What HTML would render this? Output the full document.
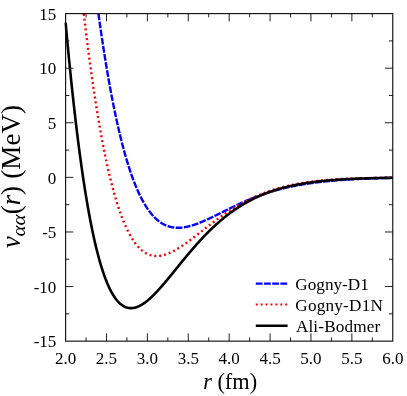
<!DOCTYPE html>
<html><head><meta charset="utf-8"><style>
html,body{margin:0;padding:0;background:#fff;}
svg{display:block;font-family:"Liberation Serif",serif;}
text{filter:grayscale(1);}
</style></head><body>
<svg width="407" height="396" viewBox="0 0 407 396">
<rect width="407" height="396" fill="#fff"/>
<defs><clipPath id="c"><rect x="64.19999999999999" y="13.299999999999999" width="329.95" height="328.15"/></clipPath></defs>
<g clip-path="url(#c)" fill="none" stroke-linejoin="round">
<path d="M95.62 -7.62 L95.94 -5.09 L96.27 -2.58 L96.60 -0.09 L96.92 2.38 L97.25 4.84 L97.58 7.27 L97.91 9.69 L98.23 12.09 L98.56 14.48 L98.89 16.84 L99.21 19.19 L99.54 21.52 L99.87 23.83 L100.20 26.13 L100.52 28.41 L100.85 30.67 L101.18 32.91 L101.50 35.13 L101.83 37.34 L102.16 39.53 L102.49 41.71 L102.81 43.86 L103.14 46.00 L103.47 48.13 L103.79 50.23 L104.12 52.32 L104.45 54.39 L104.78 56.45 L105.10 58.49 L105.43 60.51 L105.76 62.52 L106.08 64.51 L106.41 66.48 L106.74 68.44 L107.07 70.38 L107.39 72.31 L107.72 74.22 L108.05 76.11 L108.37 77.99 L108.70 79.85 L109.03 81.69 L109.36 83.52 L109.68 85.34 L110.01 87.14 L110.34 88.92 L110.66 90.69 L110.99 92.44 L111.32 94.18 L111.65 95.90 L111.97 97.61 L112.30 99.30 L112.63 100.98 L112.95 102.64 L113.28 104.29 L113.61 105.92 L113.94 107.54 L114.26 109.14 L114.59 110.73 L114.92 112.31 L115.25 113.87 L115.57 115.41 L115.90 116.95 L116.23 118.46 L116.55 119.97 L116.88 121.46 L117.21 122.93 L117.54 124.39 L117.86 125.84 L118.19 127.27 L118.52 128.69 L118.84 130.10 L119.17 131.49 L119.50 132.87 L119.83 134.24 L120.15 135.59 L120.48 136.93 L120.81 138.26 L121.13 139.57 L121.46 140.87 L121.79 142.16 L122.12 143.43 L122.44 144.70 L122.77 145.94 L123.10 147.18 L123.42 148.40 L123.75 149.62 L124.08 150.81 L124.41 152.00 L124.73 153.17 L125.06 154.34 L125.39 155.49 L125.71 156.62 L126.04 157.75 L126.37 158.86 L126.70 159.96 L127.02 161.05 L127.35 162.13 L127.68 163.20 L128.00 164.25 L128.33 165.29 L128.66 166.33 L128.99 167.35 L129.31 168.36 L129.64 169.35 L129.97 170.34 L130.29 171.31 L130.62 172.28 L130.95 173.23 L131.28 174.17 L131.60 175.11 L131.93 176.03 L132.26 176.94 L132.58 177.84 L132.91 178.72 L133.24 179.60 L133.57 180.47 L133.89 181.33 L134.22 182.18 L134.55 183.01 L134.87 183.84 L135.20 184.66 L135.53 185.46 L135.86 186.26 L136.18 187.05 L136.51 187.82 L136.84 188.59 L137.16 189.35 L137.49 190.10 L137.82 190.83 L138.15 191.56 L138.47 192.28 L138.80 192.99 L139.13 193.69 L139.45 194.39 L139.78 195.07 L140.11 195.74 L140.44 196.41 L140.76 197.06 L141.09 197.71 L141.42 198.34 L141.74 198.97 L142.07 199.59 L142.40 200.20 L142.73 200.81 L143.05 201.40 L143.38 201.99 L143.71 202.57 L144.03 203.13 L144.36 203.70 L144.69 204.25 L145.02 204.79 L145.34 205.33 L145.67 205.86 L146.00 206.38 L146.32 206.89 L146.65 207.39 L146.98 207.89 L147.31 208.38 L147.63 208.86 L147.96 209.34 L148.29 209.80 L148.61 210.26 L148.94 210.71 L149.27 211.16 L149.60 211.59 L149.92 212.02 L150.25 212.45 L150.58 212.86 L150.90 213.27 L151.23 213.67 L151.56 214.07 L151.89 214.45 L152.21 214.83 L152.54 215.21 L152.87 215.57 L153.19 215.94 L153.52 216.29 L153.85 216.64 L154.18 216.98 L154.50 217.31 L154.83 217.64 L155.16 217.96 L155.48 218.28 L155.81 218.59 L156.14 218.89 L156.47 219.19 L156.79 219.48 L157.12 219.76 L157.45 220.04 L157.77 220.31 L158.10 220.58 L158.43 220.84 L158.76 221.10 L159.08 221.35 L159.41 221.59 L159.74 221.83 L160.06 222.07 L160.39 222.29 L160.72 222.52 L161.05 222.73 L161.37 222.94 L161.70 223.15 L162.03 223.35 L162.35 223.55 L162.68 223.74 L163.01 223.93 L163.34 224.11 L163.66 224.28 L163.99 224.45 L164.32 224.62 L164.64 224.78 L164.97 224.94 L165.30 225.09 L165.63 225.24 L165.95 225.38 L166.28 225.52 L166.61 225.65 L166.93 225.78 L167.26 225.90 L167.59 226.02 L167.92 226.14 L168.24 226.25 L168.57 226.36 L168.90 226.46 L169.22 226.56 L169.55 226.65 L169.88 226.74 L170.21 226.83 L170.53 226.91 L170.86 226.99 L171.19 227.06 L171.51 227.13 L171.84 227.20 L172.17 227.26 L172.50 227.32 L172.82 227.38 L173.15 227.43 L173.48 227.48 L173.80 227.52 L174.13 227.56 L174.46 227.60 L174.79 227.64 L175.11 227.67 L175.44 227.69 L175.77 227.72 L176.09 227.74 L176.42 227.76 L176.75 227.77 L177.08 227.78 L177.40 227.79 L177.73 227.79 L178.06 227.80 L178.38 227.79 L178.71 227.79 L179.04 227.78 L179.37 227.77 L179.69 227.76 L180.02 227.74 L180.35 227.72 L180.68 227.70 L181.00 227.68 L181.33 227.65 L181.66 227.62 L181.98 227.59 L182.31 227.55 L182.64 227.52 L182.97 227.48 L183.29 227.43 L183.62 227.39 L183.95 227.34 L184.27 227.29 L184.60 227.24 L184.93 227.18 L185.26 227.13 L185.58 227.07 L185.91 227.00 L186.24 226.94 L186.56 226.88 L186.89 226.81 L187.22 226.74 L187.55 226.66 L187.87 226.59 L188.20 226.51 L188.53 226.44 L188.85 226.36 L189.18 226.27 L189.51 226.19 L189.84 226.10 L190.16 226.01 L190.49 225.92 L190.82 225.83 L191.14 225.74 L191.47 225.64 L191.80 225.55 L192.13 225.45 L192.45 225.35 L192.78 225.25 L193.11 225.14 L193.43 225.04 L193.76 224.93 L194.09 224.82 L194.42 224.72 L194.74 224.60 L195.07 224.49 L195.40 224.38 L195.72 224.26 L196.05 224.15 L196.38 224.03 L196.71 223.91 L197.03 223.79 L197.36 223.67 L197.69 223.54 L198.01 223.42 L198.34 223.29 L198.67 223.17 L199.00 223.04 L199.32 222.91 L199.65 222.78 L199.98 222.65 L200.30 222.52 L200.63 222.38 L200.96 222.25 L201.29 222.11 L201.61 221.98 L201.94 221.84 L202.27 221.70 L202.59 221.56 L202.92 221.42 L203.25 221.28 L203.58 221.14 L203.90 221.00 L204.23 220.85 L204.56 220.71 L204.88 220.56 L205.21 220.42 L205.54 220.27 L205.87 220.12 L206.19 219.98 L206.52 219.83 L206.85 219.68 L207.17 219.53 L207.50 219.38 L207.83 219.23 L208.16 219.07 L208.48 218.92 L208.81 218.77 L209.14 218.62 L209.46 218.46 L209.79 218.31 L210.12 218.15 L210.45 218.00 L210.77 217.84 L211.10 217.68 L211.43 217.53 L211.75 217.37 L212.08 217.21 L212.41 217.05 L212.74 216.90 L213.06 216.74 L213.39 216.58 L213.72 216.42 L214.04 216.26 L214.37 216.10 L214.70 215.94 L215.03 215.78 L215.35 215.62 L215.68 215.46 L216.01 215.30 L216.33 215.13 L216.66 214.97 L216.99 214.81 L217.32 214.65 L217.64 214.49 L217.97 214.32 L218.30 214.16 L218.62 214.00 L218.95 213.84 L219.28 213.67 L219.61 213.51 L219.93 213.35 L220.26 213.19 L220.59 213.02 L220.91 212.86 L221.24 212.70 L221.57 212.53 L221.90 212.37 L222.22 212.21 L222.55 212.04 L222.88 211.88 L223.20 211.72 L223.53 211.55 L223.86 211.39 L224.19 211.23 L224.51 211.07 L224.84 210.90 L225.17 210.74 L225.49 210.58 L225.82 210.42 L226.15 210.25 L226.48 210.09 L226.80 209.93 L227.13 209.77 L227.46 209.61 L227.78 209.44 L228.11 209.28 L228.44 209.12 L228.77 208.96 L229.09 208.80 L229.42 208.64 L229.75 208.48 L230.07 208.32 L230.40 208.16 L230.73 208.00 L231.06 207.84 L231.38 207.68 L231.71 207.52 L232.04 207.37 L232.36 207.21 L232.69 207.05 L233.02 206.89 L233.35 206.73 L233.67 206.58 L234.00 206.42 L234.33 206.26 L234.65 206.11 L234.98 205.95 L235.31 205.80 L235.64 205.64 L235.96 205.49 L236.29 205.33 L236.62 205.18 L236.94 205.03 L237.27 204.87 L237.60 204.72 L237.93 204.57 L238.25 204.41 L238.58 204.26 L238.91 204.11 L239.23 203.96 L239.56 203.81 L239.89 203.66 L240.22 203.51 L240.54 203.36 L240.87 203.21 L241.20 203.06 L241.52 202.92 L241.85 202.77 L242.18 202.62 L242.51 202.48 L242.83 202.33 L243.16 202.18 L243.49 202.04 L243.81 201.89 L244.14 201.75 L244.47 201.61 L244.80 201.46 L245.12 201.32 L245.45 201.18 L245.78 201.03 L246.11 200.89 L246.43 200.75 L246.76 200.61 L247.09 200.47 L247.41 200.33 L247.74 200.19 L248.07 200.06 L248.40 199.92 L248.72 199.78 L249.05 199.64 L249.38 199.51 L249.70 199.37 L250.03 199.24 L250.36 199.10 L250.69 198.97 L251.01 198.83 L251.34 198.70 L251.67 198.57 L251.99 198.44 L252.32 198.30 L252.65 198.17 L252.98 198.04 L253.30 197.91 L253.63 197.78 L253.96 197.65 L254.28 197.53 L254.61 197.40 L254.94 197.27 L255.27 197.14 L255.59 197.02 L255.92 196.89 L256.25 196.77 L256.57 196.64 L256.90 196.52 L257.23 196.40 L257.56 196.27 L257.88 196.15 L258.21 196.03 L258.54 195.91 L258.86 195.79 L259.19 195.67 L259.52 195.55 L259.85 195.43 L260.17 195.31 L260.50 195.19 L260.83 195.08 L261.15 194.96 L261.48 194.84 L261.81 194.73 L262.14 194.61 L262.46 194.50 L262.79 194.38 L263.12 194.27 L263.44 194.16 L263.77 194.05 L264.10 193.93 L264.43 193.82 L264.75 193.71 L265.08 193.60 L265.41 193.49 L265.73 193.39 L266.06 193.28 L266.39 193.17 L266.72 193.06 L267.04 192.96 L267.37 192.85 L267.70 192.74 L268.02 192.64 L268.35 192.54 L268.68 192.43 L269.01 192.33 L269.33 192.23 L269.66 192.12 L269.99 192.02 L270.31 191.92 L270.64 191.82 L270.97 191.72 L271.30 191.62 L271.62 191.52 L271.95 191.43 L272.28 191.33 L272.60 191.23 L272.93 191.13 L273.26 191.04 L273.59 190.94 L273.91 190.85 L274.24 190.75 L274.57 190.66 L274.89 190.57 L275.22 190.47 L275.55 190.38 L275.88 190.29 L276.20 190.20 L276.53 190.11 L276.86 190.02 L277.18 189.93 L277.51 189.84 L277.84 189.75 L278.17 189.66 L278.49 189.58 L278.82 189.49 L279.15 189.40 L279.47 189.32 L279.80 189.23 L280.13 189.15 L280.46 189.06 L280.78 188.98 L281.11 188.90 L281.44 188.81 L281.76 188.73 L282.09 188.65 L282.42 188.57 L282.75 188.49 L283.07 188.41 L283.40 188.33 L283.73 188.25 L284.05 188.17 L284.38 188.09 L284.71 188.01 L285.04 187.94 L285.36 187.86 L285.69 187.78 L286.02 187.71 L286.34 187.63 L286.67 187.56 L287.00 187.48 L287.33 187.41 L287.65 187.33 L287.98 187.26 L288.31 187.19 L288.63 187.12 L288.96 187.04 L289.29 186.97 L289.62 186.90 L289.94 186.83 L290.27 186.76 L290.60 186.69 L290.92 186.62 L291.25 186.56 L291.58 186.49 L291.91 186.42 L292.23 186.35 L292.56 186.29 L292.89 186.22 L293.21 186.15 L293.54 186.09 L293.87 186.02 L294.20 185.96 L294.52 185.89 L294.85 185.83 L295.18 185.77 L295.50 185.70 L295.83 185.64 L296.16 185.58 L296.49 185.52 L296.81 185.46 L297.14 185.39 L297.47 185.33 L297.79 185.27 L298.12 185.21 L298.45 185.15 L298.78 185.10 L299.10 185.04 L299.43 184.98 L299.76 184.92 L300.08 184.86 L300.41 184.81 L300.74 184.75 L301.07 184.69 L301.39 184.64 L301.72 184.58 L302.05 184.53 L302.37 184.47 L302.70 184.42 L303.03 184.36 L303.36 184.31 L303.68 184.26 L304.01 184.20 L304.34 184.15 L304.66 184.10 L304.99 184.05 L305.32 183.99 L305.65 183.94 L305.97 183.89 L306.30 183.84 L306.63 183.79 L306.95 183.74 L307.28 183.69 L307.61 183.64 L307.94 183.59 L308.26 183.54 L308.59 183.50 L308.92 183.45 L309.24 183.40 L309.57 183.35 L309.90 183.31 L310.23 183.26 L310.55 183.21 L310.88 183.17 L311.21 183.12 L311.54 183.08 L311.86 183.03 L312.19 182.99 L312.52 182.94 L312.84 182.90 L313.17 182.85 L313.50 182.81 L313.83 182.76 L314.15 182.72 L314.48 182.68 L314.81 182.64 L315.13 182.59 L315.46 182.55 L315.79 182.51 L316.12 182.47 L316.44 182.43 L316.77 182.39 L317.10 182.35 L317.42 182.31 L317.75 182.27 L318.08 182.23 L318.41 182.19 L318.73 182.15 L319.06 182.11 L319.39 182.07 L319.71 182.03 L320.04 181.99 L320.37 181.95 L320.70 181.92 L321.02 181.88 L321.35 181.84 L321.68 181.80 L322.00 181.77 L322.33 181.73 L322.66 181.69 L322.99 181.66 L323.31 181.62 L323.64 181.59 L323.97 181.55 L324.29 181.52 L324.62 181.48 L324.95 181.45 L325.28 181.41 L325.60 181.38 L325.93 181.35 L326.26 181.31 L326.58 181.28 L326.91 181.24 L327.24 181.21 L327.57 181.18 L327.89 181.15 L328.22 181.11 L328.55 181.08 L328.87 181.05 L329.20 181.02 L329.53 180.99 L329.86 180.96 L330.18 180.92 L330.51 180.89 L330.84 180.86 L331.16 180.83 L331.49 180.80 L331.82 180.77 L332.15 180.74 L332.47 180.71 L332.80 180.68 L333.13 180.65 L333.45 180.63 L333.78 180.60 L334.11 180.57 L334.44 180.54 L334.76 180.51 L335.09 180.48 L335.42 180.46 L335.74 180.43 L336.07 180.40 L336.40 180.37 L336.73 180.35 L337.05 180.32 L337.38 180.29 L337.71 180.27 L338.03 180.24 L338.36 180.21 L338.69 180.19 L339.02 180.16 L339.34 180.14 L339.67 180.11 L340.00 180.09 L340.32 180.06 L340.65 180.04 L340.98 180.01 L341.31 179.99 L341.63 179.96 L341.96 179.94 L342.29 179.92 L342.61 179.89 L342.94 179.87 L343.27 179.84 L343.60 179.82 L343.92 179.80 L344.25 179.78 L344.58 179.75 L344.90 179.73 L345.23 179.71 L345.56 179.69 L345.89 179.66 L346.21 179.64 L346.54 179.62 L346.87 179.60 L347.19 179.58 L347.52 179.56 L347.85 179.53 L348.18 179.51 L348.50 179.49 L348.83 179.47 L349.16 179.45 L349.48 179.43 L349.81 179.41 L350.14 179.39 L350.47 179.37 L350.79 179.35 L351.12 179.33 L351.45 179.31 L351.77 179.29 L352.10 179.28 L352.43 179.26 L352.76 179.24 L353.08 179.22 L353.41 179.20 L353.74 179.18 L354.06 179.16 L354.39 179.15 L354.72 179.13 L355.05 179.11 L355.37 179.09 L355.70 179.08 L356.03 179.06 L356.35 179.04 L356.68 179.02 L357.01 179.01 L357.34 178.99 L357.66 178.97 L357.99 178.96 L358.32 178.94 L358.64 178.93 L358.97 178.91 L359.30 178.89 L359.63 178.88 L359.95 178.86 L360.28 178.85 L360.61 178.83 L360.93 178.82 L361.26 178.80 L361.59 178.79 L361.92 178.77 L362.24 178.76 L362.57 178.74 L362.90 178.73 L363.22 178.71 L363.55 178.70 L363.88 178.69 L364.21 178.67 L364.53 178.66 L364.86 178.64 L365.19 178.63 L365.51 178.62 L365.84 178.60 L366.17 178.59 L366.50 178.58 L366.82 178.56 L367.15 178.55 L367.48 178.54 L367.80 178.53 L368.13 178.51 L368.46 178.50 L368.79 178.49 L369.11 178.48 L369.44 178.47 L369.77 178.45 L370.09 178.44 L370.42 178.43 L370.75 178.42 L371.08 178.41 L371.40 178.40 L371.73 178.38 L372.06 178.37 L372.38 178.36 L372.71 178.35 L373.04 178.34 L373.37 178.33 L373.69 178.32 L374.02 178.31 L374.35 178.30 L374.67 178.29 L375.00 178.28 L375.33 178.27 L375.66 178.26 L375.98 178.25 L376.31 178.24 L376.64 178.23 L376.97 178.22 L377.29 178.21 L377.62 178.20 L377.95 178.19 L378.27 178.18 L378.60 178.17 L378.93 178.16 L379.26 178.15 L379.58 178.15 L379.91 178.14 L380.24 178.13 L380.56 178.12 L380.89 178.11 L381.22 178.10 L381.55 178.09 L381.87 178.09 L382.20 178.08 L382.53 178.07 L382.85 178.06 L383.18 178.05 L383.51 178.05 L383.84 178.04 L384.16 178.03 L384.49 178.02 L384.82 178.02 L385.14 178.01 L385.47 178.00 L385.80 177.99 L386.13 177.99 L386.45 177.98 L386.78 177.97 L387.11 177.97 L387.43 177.96 L387.76 177.95 L388.09 177.95 L388.42 177.94 L388.74 177.93 L389.07 177.93 L389.40 177.92 L389.72 177.91 L390.05 177.91 L390.38 177.90 L390.71 177.89 L391.03 177.89 L391.36 177.88 L391.69 177.88 L392.01 177.87 L392.34 177.86 L392.67 177.86" stroke="#0000ff" stroke-width="2.4" stroke-dasharray="6.75 1.45" stroke-dashoffset="3.335"/>
<path d="M81.38 -7.50 L81.71 -4.54 L82.04 -1.60 L82.37 1.32 L82.69 4.22 L83.02 7.09 L83.35 9.94 L83.68 12.78 L84.00 15.59 L84.33 18.38 L84.66 21.15 L84.98 23.89 L85.31 26.62 L85.64 29.33 L85.97 32.01 L86.29 34.68 L86.62 37.32 L86.95 39.94 L87.27 42.54 L87.60 45.13 L87.93 47.69 L88.26 50.23 L88.58 52.75 L88.91 55.25 L89.24 57.73 L89.56 60.19 L89.89 62.63 L90.22 65.05 L90.55 67.45 L90.87 69.83 L91.20 72.19 L91.53 74.53 L91.85 76.85 L92.18 79.15 L92.51 81.44 L92.84 83.70 L93.16 85.94 L93.49 88.17 L93.82 90.37 L94.14 92.56 L94.47 94.73 L94.80 96.88 L95.13 99.00 L95.45 101.12 L95.78 103.21 L96.11 105.28 L96.43 107.34 L96.76 109.37 L97.09 111.39 L97.42 113.39 L97.74 115.38 L98.07 117.34 L98.40 119.28 L98.72 121.21 L99.05 123.12 L99.38 125.02 L99.71 126.89 L100.03 128.75 L100.36 130.59 L100.69 132.41 L101.01 134.21 L101.34 136.00 L101.67 137.77 L102.00 139.52 L102.32 141.26 L102.65 142.98 L102.98 144.68 L103.30 146.37 L103.63 148.03 L103.96 149.69 L104.29 151.32 L104.61 152.94 L104.94 154.54 L105.27 156.13 L105.59 157.70 L105.92 159.25 L106.25 160.79 L106.58 162.31 L106.90 163.82 L107.23 165.31 L107.56 166.78 L107.88 168.24 L108.21 169.68 L108.54 171.11 L108.87 172.52 L109.19 173.92 L109.52 175.30 L109.85 176.67 L110.17 178.02 L110.50 179.36 L110.83 180.68 L111.16 181.98 L111.48 183.28 L111.81 184.55 L112.14 185.82 L112.46 187.06 L112.79 188.30 L113.12 189.52 L113.45 190.72 L113.77 191.91 L114.10 193.09 L114.43 194.25 L114.75 195.40 L115.08 196.54 L115.41 197.66 L115.74 198.77 L116.06 199.86 L116.39 200.94 L116.72 202.01 L117.04 203.07 L117.37 204.11 L117.70 205.14 L118.03 206.15 L118.35 207.15 L118.68 208.14 L119.01 209.12 L119.33 210.08 L119.66 211.03 L119.99 211.97 L120.32 212.90 L120.64 213.81 L120.97 214.71 L121.30 215.60 L121.62 216.48 L121.95 217.34 L122.28 218.19 L122.61 219.03 L122.93 219.86 L123.26 220.68 L123.59 221.49 L123.91 222.28 L124.24 223.06 L124.57 223.83 L124.90 224.59 L125.22 225.34 L125.55 226.08 L125.88 226.80 L126.20 227.52 L126.53 228.22 L126.86 228.91 L127.19 229.60 L127.51 230.27 L127.84 230.93 L128.17 231.58 L128.49 232.22 L128.82 232.85 L129.15 233.47 L129.48 234.08 L129.80 234.68 L130.13 235.27 L130.46 235.84 L130.78 236.41 L131.11 236.97 L131.44 237.52 L131.77 238.06 L132.09 238.59 L132.42 239.11 L132.75 239.62 L133.07 240.12 L133.40 240.61 L133.73 241.10 L134.06 241.57 L134.38 242.03 L134.71 242.49 L135.04 242.94 L135.36 243.37 L135.69 243.80 L136.02 244.22 L136.35 244.63 L136.67 245.04 L137.00 245.43 L137.33 245.82 L137.65 246.19 L137.98 246.56 L138.31 246.92 L138.64 247.27 L138.96 247.62 L139.29 247.96 L139.62 248.28 L139.94 248.60 L140.27 248.92 L140.60 249.22 L140.93 249.52 L141.25 249.81 L141.58 250.09 L141.91 250.37 L142.23 250.63 L142.56 250.89 L142.89 251.15 L143.22 251.39 L143.54 251.63 L143.87 251.86 L144.20 252.09 L144.52 252.30 L144.85 252.51 L145.18 252.72 L145.51 252.91 L145.83 253.10 L146.16 253.29 L146.49 253.46 L146.81 253.64 L147.14 253.80 L147.47 253.96 L147.80 254.11 L148.12 254.25 L148.45 254.39 L148.78 254.53 L149.11 254.65 L149.43 254.77 L149.76 254.89 L150.09 255.00 L150.41 255.10 L150.74 255.20 L151.07 255.29 L151.40 255.38 L151.72 255.46 L152.05 255.53 L152.38 255.60 L152.70 255.67 L153.03 255.73 L153.36 255.78 L153.69 255.83 L154.01 255.87 L154.34 255.91 L154.67 255.95 L154.99 255.97 L155.32 256.00 L155.65 256.02 L155.98 256.03 L156.30 256.04 L156.63 256.04 L156.96 256.04 L157.28 256.04 L157.61 256.03 L157.94 256.01 L158.27 256.00 L158.59 255.97 L158.92 255.95 L159.25 255.91 L159.57 255.88 L159.90 255.84 L160.23 255.79 L160.56 255.75 L160.88 255.69 L161.21 255.64 L161.54 255.58 L161.86 255.51 L162.19 255.45 L162.52 255.38 L162.85 255.30 L163.17 255.22 L163.50 255.14 L163.83 255.05 L164.15 254.96 L164.48 254.87 L164.81 254.77 L165.14 254.67 L165.46 254.57 L165.79 254.46 L166.12 254.35 L166.44 254.24 L166.77 254.12 L167.10 254.01 L167.43 253.88 L167.75 253.76 L168.08 253.63 L168.41 253.50 L168.73 253.36 L169.06 253.23 L169.39 253.09 L169.72 252.94 L170.04 252.80 L170.37 252.65 L170.70 252.50 L171.02 252.35 L171.35 252.19 L171.68 252.03 L172.01 251.87 L172.33 251.71 L172.66 251.54 L172.99 251.37 L173.31 251.20 L173.64 251.03 L173.97 250.85 L174.30 250.68 L174.62 250.50 L174.95 250.32 L175.28 250.13 L175.60 249.95 L175.93 249.76 L176.26 249.57 L176.59 249.38 L176.91 249.18 L177.24 248.99 L177.57 248.79 L177.89 248.59 L178.22 248.39 L178.55 248.19 L178.88 247.98 L179.20 247.78 L179.53 247.57 L179.86 247.36 L180.18 247.15 L180.51 246.93 L180.84 246.72 L181.17 246.50 L181.49 246.29 L181.82 246.07 L182.15 245.85 L182.47 245.63 L182.80 245.41 L183.13 245.18 L183.46 244.96 L183.78 244.73 L184.11 244.50 L184.44 244.27 L184.76 244.04 L185.09 243.81 L185.42 243.58 L185.75 243.35 L186.07 243.11 L186.40 242.88 L186.73 242.64 L187.05 242.40 L187.38 242.17 L187.71 241.93 L188.04 241.69 L188.36 241.45 L188.69 241.20 L189.02 240.96 L189.34 240.72 L189.67 240.47 L190.00 240.23 L190.33 239.98 L190.65 239.74 L190.98 239.49 L191.31 239.24 L191.63 239.00 L191.96 238.75 L192.29 238.50 L192.62 238.25 L192.94 238.00 L193.27 237.75 L193.60 237.50 L193.92 237.25 L194.25 236.99 L194.58 236.74 L194.91 236.49 L195.23 236.24 L195.56 235.98 L195.89 235.73 L196.21 235.47 L196.54 235.22 L196.87 234.97 L197.20 234.71 L197.52 234.46 L197.85 234.20 L198.18 233.94 L198.50 233.69 L198.83 233.43 L199.16 233.18 L199.49 232.92 L199.81 232.67 L200.14 232.41 L200.47 232.15 L200.79 231.90 L201.12 231.64 L201.45 231.38 L201.78 231.13 L202.10 230.87 L202.43 230.62 L202.76 230.36 L203.08 230.10 L203.41 229.85 L203.74 229.59 L204.07 229.34 L204.39 229.08 L204.72 228.82 L205.05 228.57 L205.37 228.31 L205.70 228.06 L206.03 227.80 L206.36 227.55 L206.68 227.30 L207.01 227.04 L207.34 226.79 L207.66 226.53 L207.99 226.28 L208.32 226.03 L208.65 225.77 L208.97 225.52 L209.30 225.27 L209.63 225.02 L209.95 224.77 L210.28 224.52 L210.61 224.27 L210.94 224.02 L211.26 223.77 L211.59 223.52 L211.92 223.27 L212.24 223.02 L212.57 222.77 L212.90 222.53 L213.23 222.28 L213.55 222.03 L213.88 221.79 L214.21 221.54 L214.54 221.30 L214.86 221.05 L215.19 220.81 L215.52 220.56 L215.84 220.32 L216.17 220.08 L216.50 219.84 L216.83 219.60 L217.15 219.35 L217.48 219.11 L217.81 218.87 L218.13 218.64 L218.46 218.40 L218.79 218.16 L219.12 217.92 L219.44 217.69 L219.77 217.45 L220.10 217.22 L220.42 216.98 L220.75 216.75 L221.08 216.52 L221.41 216.28 L221.73 216.05 L222.06 215.82 L222.39 215.59 L222.71 215.36 L223.04 215.13 L223.37 214.90 L223.70 214.68 L224.02 214.45 L224.35 214.22 L224.68 214.00 L225.00 213.77 L225.33 213.55 L225.66 213.33 L225.99 213.10 L226.31 212.88 L226.64 212.66 L226.97 212.44 L227.29 212.22 L227.62 212.00 L227.95 211.79 L228.28 211.57 L228.60 211.35 L228.93 211.14 L229.26 210.92 L229.58 210.71 L229.91 210.50 L230.24 210.29 L230.57 210.07 L230.89 209.86 L231.22 209.65 L231.55 209.45 L231.87 209.24 L232.20 209.03 L232.53 208.82 L232.86 208.62 L233.18 208.41 L233.51 208.21 L233.84 208.01 L234.16 207.81 L234.49 207.60 L234.82 207.40 L235.15 207.20 L235.47 207.01 L235.80 206.81 L236.13 206.61 L236.45 206.41 L236.78 206.22 L237.11 206.02 L237.44 205.83 L237.76 205.64 L238.09 205.45 L238.42 205.26 L238.74 205.07 L239.07 204.88 L239.40 204.69 L239.73 204.50 L240.05 204.31 L240.38 204.13 L240.71 203.94 L241.03 203.76 L241.36 203.58 L241.69 203.39 L242.02 203.21 L242.34 203.03 L242.67 202.85 L243.00 202.67 L243.32 202.49 L243.65 202.32 L243.98 202.14 L244.31 201.97 L244.63 201.79 L244.96 201.62 L245.29 201.45 L245.61 201.27 L245.94 201.10 L246.27 200.93 L246.60 200.76 L246.92 200.59 L247.25 200.43 L247.58 200.26 L247.90 200.09 L248.23 199.93 L248.56 199.77 L248.89 199.60 L249.21 199.44 L249.54 199.28 L249.87 199.12 L250.19 198.96 L250.52 198.80 L250.85 198.64 L251.18 198.48 L251.50 198.33 L251.83 198.17 L252.16 198.02 L252.48 197.86 L252.81 197.71 L253.14 197.56 L253.47 197.41 L253.79 197.26 L254.12 197.11 L254.45 196.96 L254.77 196.81 L255.10 196.67 L255.43 196.52 L255.76 196.37 L256.08 196.23 L256.41 196.09 L256.74 195.94 L257.06 195.80 L257.39 195.66 L257.72 195.52 L258.05 195.38 L258.37 195.24 L258.70 195.10 L259.03 194.97 L259.35 194.83 L259.68 194.70 L260.01 194.56 L260.34 194.43 L260.66 194.29 L260.99 194.16 L261.32 194.03 L261.64 193.90 L261.97 193.77 L262.30 193.64 L262.63 193.51 L262.95 193.39 L263.28 193.26 L263.61 193.13 L263.93 193.01 L264.26 192.88 L264.59 192.76 L264.92 192.64 L265.24 192.52 L265.57 192.40 L265.90 192.28 L266.22 192.16 L266.55 192.04 L266.88 191.92 L267.21 191.80 L267.53 191.68 L267.86 191.57 L268.19 191.45 L268.51 191.34 L268.84 191.23 L269.17 191.11 L269.50 191.00 L269.82 190.89 L270.15 190.78 L270.48 190.67 L270.80 190.56 L271.13 190.45 L271.46 190.34 L271.79 190.24 L272.11 190.13 L272.44 190.03 L272.77 189.92 L273.09 189.82 L273.42 189.71 L273.75 189.61 L274.08 189.51 L274.40 189.41 L274.73 189.31 L275.06 189.21 L275.38 189.11 L275.71 189.01 L276.04 188.91 L276.37 188.81 L276.69 188.72 L277.02 188.62 L277.35 188.53 L277.67 188.43 L278.00 188.34 L278.33 188.24 L278.66 188.15 L278.98 188.06 L279.31 187.97 L279.64 187.88 L279.97 187.79 L280.29 187.70 L280.62 187.61 L280.95 187.52 L281.27 187.43 L281.60 187.35 L281.93 187.26 L282.26 187.18 L282.58 187.09 L282.91 187.01 L283.24 186.92 L283.56 186.84 L283.89 186.76 L284.22 186.68 L284.55 186.59 L284.87 186.51 L285.20 186.43 L285.53 186.35 L285.85 186.27 L286.18 186.20 L286.51 186.12 L286.84 186.04 L287.16 185.97 L287.49 185.89 L287.82 185.81 L288.14 185.74 L288.47 185.66 L288.80 185.59 L289.13 185.52 L289.45 185.44 L289.78 185.37 L290.11 185.30 L290.43 185.23 L290.76 185.16 L291.09 185.09 L291.42 185.02 L291.74 184.95 L292.07 184.88 L292.40 184.82 L292.72 184.75 L293.05 184.68 L293.38 184.62 L293.71 184.55 L294.03 184.48 L294.36 184.42 L294.69 184.36 L295.01 184.29 L295.34 184.23 L295.67 184.17 L296.00 184.10 L296.32 184.04 L296.65 183.98 L296.98 183.92 L297.30 183.86 L297.63 183.80 L297.96 183.74 L298.29 183.68 L298.61 183.62 L298.94 183.57 L299.27 183.51 L299.59 183.45 L299.92 183.39 L300.25 183.34 L300.58 183.28 L300.90 183.23 L301.23 183.17 L301.56 183.12 L301.88 183.06 L302.21 183.01 L302.54 182.96 L302.87 182.91 L303.19 182.85 L303.52 182.80 L303.85 182.75 L304.17 182.70 L304.50 182.65 L304.83 182.60 L305.16 182.55 L305.48 182.50 L305.81 182.45 L306.14 182.40 L306.46 182.36 L306.79 182.31 L307.12 182.26 L307.45 182.21 L307.77 182.17 L308.10 182.12 L308.43 182.08 L308.75 182.03 L309.08 181.99 L309.41 181.94 L309.74 181.90 L310.06 181.85 L310.39 181.81 L310.72 181.77 L311.04 181.73 L311.37 181.68 L311.70 181.64 L312.03 181.60 L312.35 181.56 L312.68 181.52 L313.01 181.48 L313.33 181.44 L313.66 181.40 L313.99 181.36 L314.32 181.32 L314.64 181.28 L314.97 181.24 L315.30 181.20 L315.62 181.17 L315.95 181.13 L316.28 181.09 L316.61 181.06 L316.93 181.02 L317.26 180.98 L317.59 180.95 L317.91 180.91 L318.24 180.88 L318.57 180.84 L318.90 180.81 L319.22 180.77 L319.55 180.74 L319.88 180.71 L320.20 180.67 L320.53 180.64 L320.86 180.61 L321.19 180.57 L321.51 180.54 L321.84 180.51 L322.17 180.48 L322.49 180.45 L322.82 180.42 L323.15 180.39 L323.48 180.36 L323.80 180.33 L324.13 180.30 L324.46 180.27 L324.78 180.24 L325.11 180.21 L325.44 180.18 L325.77 180.15 L326.09 180.12 L326.42 180.09 L326.75 180.07 L327.07 180.04 L327.40 180.01 L327.73 179.98 L328.06 179.96 L328.38 179.93 L328.71 179.90 L329.04 179.88 L329.36 179.85 L329.69 179.83 L330.02 179.80 L330.35 179.78 L330.67 179.75 L331.00 179.73 L331.33 179.70 L331.65 179.68 L331.98 179.65 L332.31 179.63 L332.64 179.61 L332.96 179.58 L333.29 179.56 L333.62 179.54 L333.94 179.52 L334.27 179.49 L334.60 179.47 L334.93 179.45 L335.25 179.43 L335.58 179.41 L335.91 179.38 L336.23 179.36 L336.56 179.34 L336.89 179.32 L337.22 179.30 L337.54 179.28 L337.87 179.26 L338.20 179.24 L338.52 179.22 L338.85 179.20 L339.18 179.18 L339.51 179.16 L339.83 179.14 L340.16 179.12 L340.49 179.11 L340.81 179.09 L341.14 179.07 L341.47 179.05 L341.80 179.03 L342.12 179.02 L342.45 179.00 L342.78 178.98 L343.10 178.96 L343.43 178.95 L343.76 178.93 L344.09 178.91 L344.41 178.90 L344.74 178.88 L345.07 178.86 L345.40 178.85 L345.72 178.83 L346.05 178.82 L346.38 178.80 L346.70 178.78 L347.03 178.77 L347.36 178.75 L347.69 178.74 L348.01 178.72 L348.34 178.71 L348.67 178.69 L348.99 178.68 L349.32 178.67 L349.65 178.65 L349.98 178.64 L350.30 178.62 L350.63 178.61 L350.96 178.60 L351.28 178.58 L351.61 178.57 L351.94 178.56 L352.27 178.54 L352.59 178.53 L352.92 178.52 L353.25 178.51 L353.57 178.49 L353.90 178.48 L354.23 178.47 L354.56 178.46 L354.88 178.44 L355.21 178.43 L355.54 178.42 L355.86 178.41 L356.19 178.40 L356.52 178.39 L356.85 178.37 L357.17 178.36 L357.50 178.35 L357.83 178.34 L358.15 178.33 L358.48 178.32 L358.81 178.31 L359.14 178.30 L359.46 178.29 L359.79 178.28 L360.12 178.27 L360.44 178.26 L360.77 178.25 L361.10 178.24 L361.43 178.23 L361.75 178.22 L362.08 178.21 L362.41 178.20 L362.73 178.19 L363.06 178.18 L363.39 178.17 L363.72 178.16 L364.04 178.15 L364.37 178.14 L364.70 178.14 L365.02 178.13 L365.35 178.12 L365.68 178.11 L366.01 178.10 L366.33 178.09 L366.66 178.09 L366.99 178.08 L367.31 178.07 L367.64 178.06 L367.97 178.05 L368.30 178.05 L368.62 178.04 L368.95 178.03 L369.28 178.02 L369.60 178.02 L369.93 178.01 L370.26 178.00 L370.59 177.99 L370.91 177.99 L371.24 177.98 L371.57 177.97 L371.89 177.96 L372.22 177.96 L372.55 177.95 L372.88 177.94 L373.20 177.94 L373.53 177.93 L373.86 177.92 L374.18 177.92 L374.51 177.91 L374.84 177.91 L375.17 177.90 L375.49 177.89 L375.82 177.89 L376.15 177.88 L376.47 177.88 L376.80 177.87 L377.13 177.86 L377.46 177.86 L377.78 177.85 L378.11 177.85 L378.44 177.84 L378.76 177.84 L379.09 177.83 L379.42 177.82 L379.75 177.82 L380.07 177.81 L380.40 177.81 L380.73 177.80 L381.05 177.80 L381.38 177.79 L381.71 177.79 L382.04 177.78 L382.36 177.78 L382.69 177.77 L383.02 177.77 L383.34 177.76 L383.67 177.76 L384.00 177.76 L384.33 177.75 L384.65 177.75 L384.98 177.74 L385.31 177.74 L385.63 177.73 L385.96 177.73 L386.29 177.72 L386.62 177.72 L386.94 177.72 L387.27 177.71 L387.60 177.71 L387.92 177.70 L388.25 177.70 L388.58 177.70 L388.91 177.69 L389.23 177.69 L389.56 177.68 L389.89 177.68 L390.21 177.68 L390.54 177.67 L390.87 177.67 L391.20 177.67 L391.52 177.66 L391.85 177.66 L392.18 177.66 L392.50 177.65" stroke="#ff0000" stroke-width="2.4" stroke-dasharray="2 2.91" stroke-dashoffset="3.11"/>
<path d="M65.60 22.55 L65.93 26.18 L66.25 29.79 L66.58 33.36 L66.91 36.91 L67.24 40.42 L67.56 43.91 L67.89 47.36 L68.22 50.79 L68.54 54.19 L68.87 57.55 L69.20 60.89 L69.53 64.20 L69.85 67.48 L70.18 70.74 L70.51 73.96 L70.83 77.15 L71.16 80.32 L71.49 83.46 L71.82 86.57 L72.14 89.65 L72.47 92.71 L72.80 95.73 L73.12 98.73 L73.45 101.70 L73.78 104.65 L74.11 107.56 L74.43 110.45 L74.76 113.31 L75.09 116.15 L75.41 118.96 L75.74 121.74 L76.07 124.49 L76.40 127.22 L76.72 129.92 L77.05 132.60 L77.38 135.25 L77.70 137.87 L78.03 140.47 L78.36 143.04 L78.69 145.58 L79.01 148.10 L79.34 150.60 L79.67 153.07 L79.99 155.51 L80.32 157.93 L80.65 160.32 L80.98 162.69 L81.30 165.04 L81.63 167.36 L81.96 169.65 L82.28 171.92 L82.61 174.17 L82.94 176.39 L83.27 178.59 L83.59 180.77 L83.92 182.92 L84.25 185.04 L84.57 187.15 L84.90 189.23 L85.23 191.29 L85.56 193.32 L85.88 195.33 L86.21 197.32 L86.54 199.29 L86.86 201.23 L87.19 203.15 L87.52 205.05 L87.85 206.93 L88.17 208.78 L88.50 210.61 L88.83 212.42 L89.15 214.21 L89.48 215.98 L89.81 217.73 L90.14 219.45 L90.46 221.16 L90.79 222.84 L91.12 224.50 L91.44 226.14 L91.77 227.76 L92.10 229.36 L92.43 230.94 L92.75 232.50 L93.08 234.04 L93.41 235.56 L93.73 237.06 L94.06 238.54 L94.39 239.99 L94.72 241.43 L95.04 242.86 L95.37 244.26 L95.70 245.64 L96.02 247.00 L96.35 248.35 L96.68 249.67 L97.01 250.98 L97.33 252.27 L97.66 253.54 L97.99 254.79 L98.31 256.02 L98.64 257.24 L98.97 258.44 L99.30 259.62 L99.62 260.78 L99.95 261.93 L100.28 263.05 L100.61 264.17 L100.93 265.26 L101.26 266.33 L101.59 267.39 L101.91 268.44 L102.24 269.46 L102.57 270.47 L102.90 271.47 L103.22 272.44 L103.55 273.40 L103.88 274.35 L104.20 275.28 L104.53 276.19 L104.86 277.09 L105.19 277.97 L105.51 278.84 L105.84 279.69 L106.17 280.52 L106.49 281.35 L106.82 282.15 L107.15 282.94 L107.48 283.72 L107.80 284.48 L108.13 285.23 L108.46 285.96 L108.78 286.68 L109.11 287.39 L109.44 288.08 L109.77 288.75 L110.09 289.42 L110.42 290.07 L110.75 290.70 L111.07 291.33 L111.40 291.93 L111.73 292.53 L112.06 293.11 L112.38 293.68 L112.71 294.24 L113.04 294.78 L113.36 295.32 L113.69 295.84 L114.02 296.34 L114.35 296.84 L114.67 297.32 L115.00 297.79 L115.33 298.25 L115.65 298.69 L115.98 299.13 L116.31 299.55 L116.64 299.96 L116.96 300.36 L117.29 300.75 L117.62 301.13 L117.94 301.49 L118.27 301.85 L118.60 302.19 L118.93 302.53 L119.25 302.85 L119.58 303.16 L119.91 303.46 L120.23 303.75 L120.56 304.04 L120.89 304.31 L121.22 304.57 L121.54 304.82 L121.87 305.06 L122.20 305.29 L122.52 305.51 L122.85 305.72 L123.18 305.92 L123.51 306.12 L123.83 306.30 L124.16 306.47 L124.49 306.64 L124.81 306.79 L125.14 306.94 L125.47 307.08 L125.80 307.21 L126.12 307.33 L126.45 307.44 L126.78 307.55 L127.10 307.64 L127.43 307.73 L127.76 307.81 L128.09 307.88 L128.41 307.94 L128.74 307.99 L129.07 308.04 L129.39 308.08 L129.72 308.11 L130.05 308.14 L130.38 308.15 L130.70 308.16 L131.03 308.16 L131.36 308.16 L131.68 308.15 L132.01 308.13 L132.34 308.10 L132.67 308.07 L132.99 308.03 L133.32 307.98 L133.65 307.93 L133.97 307.87 L134.30 307.80 L134.63 307.73 L134.96 307.65 L135.28 307.56 L135.61 307.47 L135.94 307.37 L136.26 307.27 L136.59 307.16 L136.92 307.04 L137.25 306.92 L137.57 306.79 L137.90 306.66 L138.23 306.52 L138.55 306.38 L138.88 306.23 L139.21 306.07 L139.54 305.91 L139.86 305.75 L140.19 305.58 L140.52 305.40 L140.84 305.22 L141.17 305.04 L141.50 304.85 L141.83 304.65 L142.15 304.45 L142.48 304.25 L142.81 304.04 L143.13 303.83 L143.46 303.61 L143.79 303.39 L144.12 303.16 L144.44 302.93 L144.77 302.70 L145.10 302.46 L145.42 302.21 L145.75 301.97 L146.08 301.72 L146.41 301.46 L146.73 301.20 L147.06 300.94 L147.39 300.68 L147.71 300.41 L148.04 300.13 L148.37 299.86 L148.70 299.58 L149.02 299.29 L149.35 299.01 L149.68 298.72 L150.00 298.43 L150.33 298.13 L150.66 297.83 L150.99 297.53 L151.31 297.22 L151.64 296.91 L151.97 296.60 L152.29 296.29 L152.62 295.97 L152.95 295.65 L153.28 295.33 L153.60 295.01 L153.93 294.68 L154.26 294.35 L154.58 294.02 L154.91 293.68 L155.24 293.35 L155.57 293.01 L155.89 292.67 L156.22 292.32 L156.55 291.98 L156.87 291.63 L157.20 291.28 L157.53 290.93 L157.86 290.57 L158.18 290.22 L158.51 289.86 L158.84 289.50 L159.16 289.14 L159.49 288.77 L159.82 288.41 L160.15 288.04 L160.47 287.67 L160.80 287.30 L161.13 286.93 L161.45 286.56 L161.78 286.18 L162.11 285.81 L162.44 285.43 L162.76 285.05 L163.09 284.67 L163.42 284.29 L163.75 283.91 L164.07 283.53 L164.40 283.14 L164.73 282.76 L165.05 282.37 L165.38 281.98 L165.71 281.59 L166.04 281.20 L166.36 280.81 L166.69 280.42 L167.02 280.03 L167.34 279.63 L167.67 279.24 L168.00 278.85 L168.33 278.45 L168.65 278.05 L168.98 277.66 L169.31 277.26 L169.63 276.86 L169.96 276.46 L170.29 276.06 L170.62 275.66 L170.94 275.26 L171.27 274.86 L171.60 274.46 L171.92 274.06 L172.25 273.66 L172.58 273.26 L172.91 272.85 L173.23 272.45 L173.56 272.05 L173.89 271.65 L174.21 271.24 L174.54 270.84 L174.87 270.44 L175.20 270.03 L175.52 269.63 L175.85 269.23 L176.18 268.82 L176.50 268.42 L176.83 268.01 L177.16 267.61 L177.49 267.21 L177.81 266.80 L178.14 266.40 L178.47 266.00 L178.79 265.59 L179.12 265.19 L179.45 264.79 L179.78 264.38 L180.10 263.98 L180.43 263.58 L180.76 263.18 L181.08 262.78 L181.41 262.38 L181.74 261.98 L182.07 261.58 L182.39 261.18 L182.72 260.78 L183.05 260.38 L183.37 259.98 L183.70 259.58 L184.03 259.18 L184.36 258.79 L184.68 258.39 L185.01 257.99 L185.34 257.60 L185.66 257.20 L185.99 256.81 L186.32 256.41 L186.65 256.02 L186.97 255.63 L187.30 255.24 L187.63 254.84 L187.95 254.45 L188.28 254.06 L188.61 253.68 L188.94 253.29 L189.26 252.90 L189.59 252.51 L189.92 252.13 L190.24 251.74 L190.57 251.36 L190.90 250.97 L191.23 250.59 L191.55 250.21 L191.88 249.83 L192.21 249.45 L192.53 249.07 L192.86 248.69 L193.19 248.31 L193.52 247.93 L193.84 247.56 L194.17 247.18 L194.50 246.81 L194.82 246.43 L195.15 246.06 L195.48 245.69 L195.81 245.32 L196.13 244.95 L196.46 244.58 L196.79 244.22 L197.11 243.85 L197.44 243.49 L197.77 243.12 L198.10 242.76 L198.42 242.40 L198.75 242.03 L199.08 241.67 L199.40 241.32 L199.73 240.96 L200.06 240.60 L200.39 240.25 L200.71 239.89 L201.04 239.54 L201.37 239.19 L201.69 238.83 L202.02 238.48 L202.35 238.14 L202.68 237.79 L203.00 237.44 L203.33 237.10 L203.66 236.75 L203.98 236.41 L204.31 236.07 L204.64 235.73 L204.97 235.39 L205.29 235.05 L205.62 234.71 L205.95 234.38 L206.27 234.04 L206.60 233.71 L206.93 233.38 L207.26 233.04 L207.58 232.71 L207.91 232.39 L208.24 232.06 L208.56 231.73 L208.89 231.41 L209.22 231.08 L209.55 230.76 L209.87 230.44 L210.20 230.12 L210.53 229.80 L210.85 229.48 L211.18 229.17 L211.51 228.85 L211.84 228.54 L212.16 228.23 L212.49 227.92 L212.82 227.61 L213.14 227.30 L213.47 226.99 L213.80 226.68 L214.13 226.38 L214.45 226.08 L214.78 225.77 L215.11 225.47 L215.43 225.17 L215.76 224.87 L216.09 224.58 L216.42 224.28 L216.74 223.99 L217.07 223.69 L217.40 223.40 L217.72 223.11 L218.05 222.82 L218.38 222.53 L218.71 222.25 L219.03 221.96 L219.36 221.68 L219.69 221.39 L220.01 221.11 L220.34 220.83 L220.67 220.55 L221.00 220.27 L221.32 220.00 L221.65 219.72 L221.98 219.45 L222.30 219.18 L222.63 218.90 L222.96 218.63 L223.29 218.37 L223.61 218.10 L223.94 217.83 L224.27 217.57 L224.59 217.30 L224.92 217.04 L225.25 216.78 L225.58 216.52 L225.90 216.26 L226.23 216.00 L226.56 215.75 L226.88 215.49 L227.21 215.24 L227.54 214.99 L227.87 214.74 L228.19 214.49 L228.52 214.24 L228.85 213.99 L229.17 213.75 L229.50 213.50 L229.83 213.26 L230.16 213.02 L230.48 212.77 L230.81 212.53 L231.14 212.30 L231.47 212.06 L231.79 211.82 L232.12 211.59 L232.45 211.36 L232.77 211.12 L233.10 210.89 L233.43 210.66 L233.76 210.43 L234.08 210.21 L234.41 209.98 L234.74 209.76 L235.06 209.53 L235.39 209.31 L235.72 209.09 L236.05 208.87 L236.37 208.65 L236.70 208.43 L237.03 208.21 L237.35 208.00 L237.68 207.79 L238.01 207.57 L238.34 207.36 L238.66 207.15 L238.99 206.94 L239.32 206.73 L239.64 206.53 L239.97 206.32 L240.30 206.11 L240.63 205.91 L240.95 205.71 L241.28 205.51 L241.61 205.31 L241.93 205.11 L242.26 204.91 L242.59 204.71 L242.92 204.52 L243.24 204.32 L243.57 204.13 L243.90 203.94 L244.22 203.75 L244.55 203.56 L244.88 203.37 L245.21 203.18 L245.53 202.99 L245.86 202.81 L246.19 202.62 L246.51 202.44 L246.84 202.26 L247.17 202.08 L247.50 201.90 L247.82 201.72 L248.15 201.54 L248.48 201.36 L248.80 201.19 L249.13 201.01 L249.46 200.84 L249.79 200.67 L250.11 200.49 L250.44 200.32 L250.77 200.15 L251.09 199.99 L251.42 199.82 L251.75 199.65 L252.08 199.49 L252.40 199.32 L252.73 199.16 L253.06 199.00 L253.38 198.84 L253.71 198.68 L254.04 198.52 L254.37 198.36 L254.69 198.20 L255.02 198.04 L255.35 197.89 L255.67 197.73 L256.00 197.58 L256.33 197.43 L256.66 197.28 L256.98 197.13 L257.31 196.98 L257.64 196.83 L257.96 196.68 L258.29 196.53 L258.62 196.39 L258.95 196.24 L259.27 196.10 L259.60 195.96 L259.93 195.81 L260.25 195.67 L260.58 195.53 L260.91 195.39 L261.24 195.26 L261.56 195.12 L261.89 194.98 L262.22 194.85 L262.54 194.71 L262.87 194.58 L263.20 194.44 L263.53 194.31 L263.85 194.18 L264.18 194.05 L264.51 193.92 L264.83 193.79 L265.16 193.66 L265.49 193.54 L265.82 193.41 L266.14 193.29 L266.47 193.16 L266.80 193.04 L267.12 192.91 L267.45 192.79 L267.78 192.67 L268.11 192.55 L268.43 192.43 L268.76 192.31 L269.09 192.19 L269.41 192.08 L269.74 191.96 L270.07 191.85 L270.40 191.73 L270.72 191.62 L271.05 191.50 L271.38 191.39 L271.70 191.28 L272.03 191.17 L272.36 191.06 L272.69 190.95 L273.01 190.84 L273.34 190.73 L273.67 190.63 L273.99 190.52 L274.32 190.41 L274.65 190.31 L274.98 190.21 L275.30 190.10 L275.63 190.00 L275.96 189.90 L276.28 189.80 L276.61 189.70 L276.94 189.60 L277.27 189.50 L277.59 189.40 L277.92 189.30 L278.25 189.20 L278.57 189.11 L278.90 189.01 L279.23 188.92 L279.56 188.82 L279.88 188.73 L280.21 188.64 L280.54 188.54 L280.86 188.45 L281.19 188.36 L281.52 188.27 L281.85 188.18 L282.17 188.09 L282.50 188.01 L282.83 187.92 L283.15 187.83 L283.48 187.74 L283.81 187.66 L284.14 187.57 L284.46 187.49 L284.79 187.40 L285.12 187.32 L285.44 187.24 L285.77 187.16 L286.10 187.08 L286.43 186.99 L286.75 186.91 L287.08 186.83 L287.41 186.76 L287.73 186.68 L288.06 186.60 L288.39 186.52 L288.72 186.44 L289.04 186.37 L289.37 186.29 L289.70 186.22 L290.02 186.14 L290.35 186.07 L290.68 186.00 L291.01 185.92 L291.33 185.85 L291.66 185.78 L291.99 185.71 L292.31 185.64 L292.64 185.57 L292.97 185.50 L293.30 185.43 L293.62 185.36 L293.95 185.29 L294.28 185.22 L294.61 185.16 L294.93 185.09 L295.26 185.02 L295.59 184.96 L295.91 184.89 L296.24 184.83 L296.57 184.77 L296.90 184.70 L297.22 184.64 L297.55 184.58 L297.88 184.51 L298.20 184.45 L298.53 184.39 L298.86 184.33 L299.19 184.27 L299.51 184.21 L299.84 184.15 L300.17 184.09 L300.49 184.04 L300.82 183.98 L301.15 183.92 L301.48 183.86 L301.80 183.81 L302.13 183.75 L302.46 183.69 L302.78 183.64 L303.11 183.58 L303.44 183.53 L303.77 183.48 L304.09 183.42 L304.42 183.37 L304.75 183.32 L305.07 183.27 L305.40 183.21 L305.73 183.16 L306.06 183.11 L306.38 183.06 L306.71 183.01 L307.04 182.96 L307.36 182.91 L307.69 182.86 L308.02 182.81 L308.35 182.77 L308.67 182.72 L309.00 182.67 L309.33 182.62 L309.65 182.58 L309.98 182.53 L310.31 182.48 L310.64 182.44 L310.96 182.39 L311.29 182.35 L311.62 182.30 L311.94 182.26 L312.27 182.22 L312.60 182.17 L312.93 182.13 L313.25 182.09 L313.58 182.04 L313.91 182.00 L314.23 181.96 L314.56 181.92 L314.89 181.88 L315.22 181.84 L315.54 181.80 L315.87 181.76 L316.20 181.72 L316.52 181.68 L316.85 181.64 L317.18 181.60 L317.51 181.56 L317.83 181.52 L318.16 181.49 L318.49 181.45 L318.81 181.41 L319.14 181.38 L319.47 181.34 L319.80 181.30 L320.12 181.27 L320.45 181.23 L320.78 181.20 L321.10 181.16 L321.43 181.13 L321.76 181.09 L322.09 181.06 L322.41 181.02 L322.74 180.99 L323.07 180.96 L323.39 180.92 L323.72 180.89 L324.05 180.86 L324.38 180.83 L324.70 180.79 L325.03 180.76 L325.36 180.73 L325.68 180.70 L326.01 180.67 L326.34 180.64 L326.67 180.61 L326.99 180.58 L327.32 180.55 L327.65 180.52 L327.97 180.49 L328.30 180.46 L328.63 180.43 L328.96 180.40 L329.28 180.38 L329.61 180.35 L329.94 180.32 L330.26 180.29 L330.59 180.26 L330.92 180.24 L331.25 180.21 L331.57 180.18 L331.90 180.16 L332.23 180.13 L332.55 180.10 L332.88 180.08 L333.21 180.05 L333.54 180.03 L333.86 180.00 L334.19 179.98 L334.52 179.95 L334.84 179.93 L335.17 179.91 L335.50 179.88 L335.83 179.86 L336.15 179.83 L336.48 179.81 L336.81 179.79 L337.13 179.76 L337.46 179.74 L337.79 179.72 L338.12 179.70 L338.44 179.67 L338.77 179.65 L339.10 179.63 L339.42 179.61 L339.75 179.59 L340.08 179.57 L340.41 179.55 L340.73 179.52 L341.06 179.50 L341.39 179.48 L341.71 179.46 L342.04 179.44 L342.37 179.42 L342.70 179.40 L343.02 179.38 L343.35 179.36 L343.68 179.34 L344.00 179.33 L344.33 179.31 L344.66 179.29 L344.99 179.27 L345.31 179.25 L345.64 179.23 L345.97 179.21 L346.29 179.20 L346.62 179.18 L346.95 179.16 L347.28 179.14 L347.60 179.13 L347.93 179.11 L348.26 179.09 L348.58 179.08 L348.91 179.06 L349.24 179.04 L349.57 179.03 L349.89 179.01 L350.22 178.99 L350.55 178.98 L350.87 178.96 L351.20 178.95 L351.53 178.93 L351.86 178.92 L352.18 178.90 L352.51 178.89 L352.84 178.87 L353.16 178.86 L353.49 178.84 L353.82 178.83 L354.15 178.81 L354.47 178.80 L354.80 178.78 L355.13 178.77 L355.45 178.76 L355.78 178.74 L356.11 178.73 L356.44 178.72 L356.76 178.70 L357.09 178.69 L357.42 178.68 L357.74 178.66 L358.07 178.65 L358.40 178.64 L358.73 178.62 L359.05 178.61 L359.38 178.60 L359.71 178.59 L360.03 178.57 L360.36 178.56 L360.69 178.55 L361.02 178.54 L361.34 178.53 L361.67 178.52 L362.00 178.50 L362.33 178.49 L362.65 178.48 L362.98 178.47 L363.31 178.46 L363.63 178.45 L363.96 178.44 L364.29 178.43 L364.62 178.42 L364.94 178.41 L365.27 178.39 L365.60 178.38 L365.92 178.37 L366.25 178.36 L366.58 178.35 L366.91 178.34 L367.23 178.33 L367.56 178.32 L367.89 178.31 L368.21 178.31 L368.54 178.30 L368.87 178.29 L369.20 178.28 L369.52 178.27 L369.85 178.26 L370.18 178.25 L370.50 178.24 L370.83 178.23 L371.16 178.22 L371.49 178.21 L371.81 178.21 L372.14 178.20 L372.47 178.19 L372.79 178.18 L373.12 178.17 L373.45 178.16 L373.78 178.16 L374.10 178.15 L374.43 178.14 L374.76 178.13 L375.08 178.12 L375.41 178.12 L375.74 178.11 L376.07 178.10 L376.39 178.09 L376.72 178.09 L377.05 178.08 L377.37 178.07 L377.70 178.06 L378.03 178.06 L378.36 178.05 L378.68 178.04 L379.01 178.03 L379.34 178.03 L379.66 178.02 L379.99 178.01 L380.32 178.01 L380.65 178.00 L380.97 177.99 L381.30 177.99 L381.63 177.98 L381.95 177.98 L382.28 177.97 L382.61 177.96 L382.94 177.96 L383.26 177.95 L383.59 177.94 L383.92 177.94 L384.24 177.93 L384.57 177.93 L384.90 177.92 L385.23 177.91 L385.55 177.91 L385.88 177.90 L386.21 177.90 L386.53 177.89 L386.86 177.89 L387.19 177.88 L387.52 177.88 L387.84 177.87 L388.17 177.87 L388.50 177.86 L388.82 177.85 L389.15 177.85 L389.48 177.84 L389.81 177.84 L390.13 177.83 L390.46 177.83 L390.79 177.82 L391.11 177.82 L391.44 177.82 L391.77 177.81 L392.10 177.81 L392.42 177.80 L392.75 177.80" stroke="#000" stroke-width="2.6"/>
</g>
<path d="M86.05 341.15 v-3.80 M86.05 13.60 v3.80 M106.49 341.15 v-7.80 M106.49 13.60 v7.80 M126.94 341.15 v-3.80 M126.94 13.60 v3.80 M147.39 341.15 v-7.80 M147.39 13.60 v7.80 M167.83 341.15 v-3.80 M167.83 13.60 v3.80 M188.28 341.15 v-7.80 M188.28 13.60 v7.80 M208.73 341.15 v-3.80 M208.73 13.60 v3.80 M229.17 341.15 v-7.80 M229.17 13.60 v7.80 M249.62 341.15 v-3.80 M249.62 13.60 v3.80 M270.07 341.15 v-7.80 M270.07 13.60 v7.80 M290.52 341.15 v-3.80 M290.52 13.60 v3.80 M310.96 341.15 v-7.80 M310.96 13.60 v7.80 M331.41 341.15 v-3.80 M331.41 13.60 v3.80 M351.86 341.15 v-7.80 M351.86 13.60 v7.80 M372.30 341.15 v-3.80 M372.30 13.60 v3.80 M65.60 313.85 h3.80 M392.75 313.85 h-3.80 M65.60 286.56 h7.80 M392.75 286.56 h-7.80 M65.60 259.26 h3.80 M392.75 259.26 h-3.80 M65.60 231.97 h7.80 M392.75 231.97 h-7.80 M65.60 204.67 h3.80 M392.75 204.67 h-3.80 M65.60 177.37 h7.80 M392.75 177.37 h-7.80 M65.60 150.08 h3.80 M392.75 150.08 h-3.80 M65.60 122.78 h7.80 M392.75 122.78 h-7.80 M65.60 95.49 h3.80 M392.75 95.49 h-3.80 M65.60 68.19 h7.80 M392.75 68.19 h-7.80 M65.60 40.90 h3.80 M392.75 40.90 h-3.80" stroke="#222" stroke-width="1" fill="none"/>
<rect x="65.6" y="13.6" width="327.15" height="327.54999999999995" fill="none" stroke="#111" stroke-width="1.15"/>
<g font-size="17" fill="#000"><text x="65.60" y="363.6" text-anchor="middle">2.0</text><text x="106.49" y="363.6" text-anchor="middle">2.5</text><text x="147.39" y="363.6" text-anchor="middle">3.0</text><text x="188.28" y="363.6" text-anchor="middle">3.5</text><text x="229.17" y="363.6" text-anchor="middle">4.0</text><text x="270.07" y="363.6" text-anchor="middle">4.5</text><text x="310.96" y="363.6" text-anchor="middle">5.0</text><text x="351.86" y="363.6" text-anchor="middle">5.5</text><text x="392.75" y="363.6" text-anchor="middle">6.0</text><text x="56.3" y="347.35" text-anchor="end">-15</text><text x="56.3" y="292.76" text-anchor="end">-10</text><text x="56.3" y="238.17" text-anchor="end">-5</text><text x="56.3" y="183.57" text-anchor="end">0</text><text x="56.3" y="128.98" text-anchor="end">5</text><text x="56.3" y="74.39" text-anchor="end">10</text><text x="56.3" y="19.80" text-anchor="end">15</text></g>
<g fill="none">
<path d="M255.8 283.6 H287.2" stroke="#0000ff" stroke-width="2.4" stroke-dasharray="6.75 1.45"/>
<path d="M255.8 304.5 H287.2" stroke="#ff0000" stroke-width="2.2" stroke-dasharray="1.9 3"/>
<path d="M255.8 325.7 H287.6" stroke="#000" stroke-width="2.4"/>
</g>
<g font-size="17.2" fill="#000">
<text x="295.3" y="289.6">Gogny-D1</text>
<text x="295.3" y="310.7" textLength="87.6" lengthAdjust="spacing">Gogny-D1N</text>
<text x="295.9" y="331.5" textLength="84.3" lengthAdjust="spacing">Ali-Bodmer</text>
</g>
<text x="203.2" y="388.8" font-size="22.3" fill="#000"><tspan font-style="italic">r</tspan> (fm)</text>
<g transform="translate(19.6,248) rotate(-90)" font-size="26.7" fill="#000">
<text x="0" y="0" font-style="italic">v</text>
<text x="11.5" y="5.6" font-style="italic" font-size="19.5" textLength="22" lengthAdjust="spacingAndGlyphs">αα</text>
<text x="33.8" y="0">(<tspan font-style="italic">r</tspan>)</text>
<text x="69.3" y="0" textLength="73.7" lengthAdjust="spacingAndGlyphs">(MeV)</text>
</g>
</svg>
</body></html>
